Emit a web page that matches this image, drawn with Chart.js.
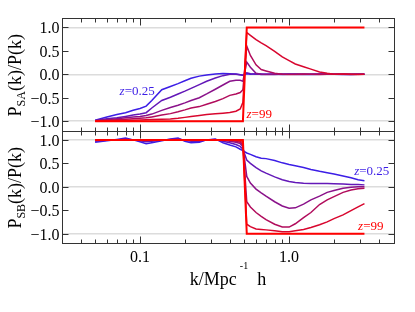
<!DOCTYPE html>
<html>
<head>
<meta charset="utf-8">
<script src="https://cdn.jsdelivr.net/npm/chart.js@4.4.0/dist/chart.umd.min.js"></script>
<style>
  html, body { margin: 0; padding: 0; background: #fff; }
  #wrap { width: 415px; height: 312px; }
</style>
</head>
<body>
<div id="wrap"><canvas id="chart" width="415" height="312"></canvas></div>
<script>
// k grid (h/Mpc), shared by every curve
const k = [0.05, 0.06, 0.07, 0.08, 0.09, 0.1, 0.11, 0.12, 0.14, 0.16, 0.18, 0.2, 0.22, 0.25, 0.28, 0.32, 0.36, 0.4, 0.44, 0.47, 0.49,
           0.52, 0.55, 0.6, 0.65, 0.7, 0.8, 0.9, 1.0, 1.1, 1.25, 1.4, 1.6, 1.8, 2.0, 2.3, 2.6, 2.9, 3.2];

// upper panel: P_SA(k)/P(k), from z=0.25 (first) to z=99 (last)
const sa1 = [-0.98, -0.91, -0.86, -0.82, -0.77, -0.73, -0.68, -0.56, -0.33, -0.26, -0.2, -0.14, -0.085, -0.04, -0.015, 0.005, 0.015, 0.01, 0.005, -0.01, -0.02,
             0.01, 0.0, 0.01, -0.005, 0.0, 0.005, -0.005, 0.0, 0.005, 0.0, -0.005, 0.0, 0.005, 0.0, -0.005, 0.0, 0.0, 0.0];
const sa2 = [-0.985, -0.95, -0.93, -0.9, -0.87, -0.85, -0.82, -0.72, -0.56, -0.49, -0.42, -0.36, -0.3, -0.22, -0.15, -0.08, -0.03, 0.0, 0.0, -0.01, -0.02,
             0.03, 0.01, 0.0, 0.005, 0.0, -0.005, 0.0, 0.005, 0.0, -0.005, 0.0, 0.0, 0.005, 0.0, 0.0, -0.005, 0.0, 0.0];
const sa3 = [-0.99, -0.97, -0.95, -0.93, -0.91, -0.9, -0.88, -0.85, -0.77, -0.71, -0.66, -0.61, -0.56, -0.5, -0.42, -0.32, -0.23, -0.15, -0.13, -0.13, -0.15,
             0.26, 0.15, 0.02, 0.0, -0.005, 0.0, 0.005, 0.0, -0.005, 0.0, 0.0, 0.005, 0.0, 0.0, 0.0, -0.005, 0.0, 0.0];
const sa4 = [-0.99, -0.98, -0.97, -0.96, -0.95, -0.94, -0.93, -0.91, -0.87, -0.84, -0.8, -0.76, -0.72, -0.69, -0.64, -0.58, -0.52, -0.45, -0.42, -0.39, -0.33,
             0.6, 0.4, 0.2, 0.1, 0.07, 0.02, 0.0, -0.005, 0.0, 0.005, 0.0, -0.005, 0.0, 0.0, 0.005, 0.0, 0.0, 0.0];
const sa5 = [-0.99, -0.99, -0.985, -0.98, -0.98, -0.975, -0.97, -0.965, -0.96, -0.955, -0.94, -0.92, -0.9, -0.88, -0.86, -0.845, -0.83, -0.815, -0.79, -0.74, -0.6,
             0.89, 0.83, 0.74, 0.67, 0.61, 0.49, 0.37, 0.29, 0.22, 0.16, 0.11, 0.05, 0.02, 0.0, 0.005, 0.0, -0.005, 0.0];
const sa6 = [-1, -1, -1, -1, -1, -1, -1, -1, -1, -1, -1, -1, -1, -1, -1, -1, -1, -1, -1, -1, -1,
             1, 1, 1, 1, 1, 1, 1, 1, 1, 1, 1, 1, 1, 1, 1, 1, 1, 1];

// lower panel: P_SB(k)/P(k)
const sb1 = [0.95, 0.98, 1.01, 1.04, 1.0, 0.96, 0.92, 0.94, 0.98, 1.02, 1.04, 0.97, 0.94, 0.95, 1.0, 1.02, 0.94, 0.89, 0.85, 0.8, 0.77,
             0.72, 0.69, 0.64, 0.61, 0.6, 0.56, 0.51, 0.475, 0.45, 0.41, 0.37, 0.33, 0.3, 0.27, 0.23, 0.19, 0.15, 0.13];
const sb2 = [0.97, 0.99, 1.0, 1.02, 1.0, 0.98, 0.96, 0.97, 0.99, 1.01, 1.02, 0.99, 0.97, 0.97, 1.0, 1.01, 0.97, 0.94, 0.9, 0.86, 0.8,
             0.57, 0.5, 0.41, 0.34, 0.29, 0.21, 0.15, 0.11, 0.09, 0.075, 0.07, 0.07, 0.07, 0.065, 0.06, 0.05, 0.05, 0.04];
const sb3 = [0.99, 1.0, 1.0, 1.01, 1.0, 0.99, 0.98, 0.99, 1.0, 1.0, 1.01, 1.0, 0.99, 0.99, 1.0, 1.0, 0.99, 0.97, 0.95, 0.92, 0.86,
             0.22, 0.08, -0.05, -0.13, -0.2, -0.32, -0.41, -0.46, -0.45, -0.37, -0.28, -0.2, -0.12, -0.08, -0.03, -0.01, 0.0, 0.0];
const sb4 = [1.0, 1.0, 1.0, 1.0, 1.0, 1.0, 0.99, 1.0, 1.0, 1.0, 1.0, 1.0, 1.0, 1.0, 1.0, 1.0, 1.0, 0.99, 0.97, 0.95, 0.9,
             -0.32, -0.43, -0.55, -0.63, -0.7, -0.8, -0.86, -0.86, -0.79, -0.66, -0.55, -0.38, -0.28, -0.21, -0.12, -0.07, -0.045, -0.03];
const sb5 = [1, 1, 1, 1, 1, 1, 1, 1, 1, 1, 1, 1, 1, 1, 1, 1, 1, 1, 1, 0.97, 0.94,
             -0.8, -0.85, -0.9, -0.91, -0.92, -0.94, -0.96, -0.96, -0.94, -0.91, -0.87, -0.81, -0.75, -0.68, -0.6, -0.51, -0.43, -0.36];
const sb6 = [1, 1, 1, 1, 1, 1, 1, 1, 1, 1, 1, 1, 1, 1, 1, 1, 1, 1, 1, 1, 1,
             -1, -1, -1, -1, -1, -1, -1, -1, -1, -1, -1, -1, -1, -1, -1, -1, -1, -1];

// y tick values and their labels
const yTickVals = [1, 0.5, 0, -0.5, -1];
const yTickText = ['1.0', '0.5', '0.0', '\u22120.5', '\u22121.0'];
const xMajor = [0.1, 1];
const xMinor = [0.04, 0.05, 0.06, 0.07, 0.08, 0.09, 0.2, 0.3, 0.4, 0.5, 0.6, 0.7, 0.8, 0.9, 2, 3, 4];

// redshift labels: [panel axis, k, value, text, colour index]
const zLabels = [
  ['yA', 0.073, -0.36, '=0.25', 0],
  ['yA', 0.518, -0.857, '=99', 5],
  ['yB', 2.73, 0.32, '=0.25', 0],
  ['yB', 2.9, -0.857, '=99', 5],
];

const colors = ['#3c1ee6', '#6318b8', '#8a128a', '#b10c5c', '#d8062e', '#ff0000'];
const serif = "'Liberation Serif', 'DejaVu Serif', serif";

const datasets = [];
[[sa1, sa2, sa3, sa4, sa5, sa6, 'yA'], [sb1, sb2, sb3, sb4, sb5, sb6, 'yB']].forEach((p) => {
  const axis = p[6];
  for (let i = 0; i < 6; i++) {
    datasets.push({
      data: k.map((kk, j) => ({ x: kk, y: p[i][j] })),
      yAxisID: axis,
      borderColor: colors[i],
      borderWidth: i === 5 ? 2 : 1.5,
      pointRadius: 0,
      tension: 0,
      order: 5 - i,
    });
  }
});

function runsWidth(ctx, runs) {
  let w = 0;
  for (const r of runs) { ctx.font = r[1]; w += ctx.measureText(r[0]).width + (r[3] || 0); }
  return w;
}
function drawRuns(ctx, runs, x0, y0) {
  let x = x0;
  for (const r of runs) {
    ctx.font = r[1];
    ctx.fillText(r[0], x, y0 + r[2]);
    x += ctx.measureText(r[0]).width + (r[3] || 0);
  }
}

const panelFrame = {
  id: 'panelFrame',
  afterDraw(chart) {
    const { ctx, scales } = chart;
    const x = scales.x;
    ctx.save();
    ctx.strokeStyle = '#333';
    ctx.lineWidth = 1;
    const seg = (x1, y1, x2, y2) => { ctx.beginPath(); ctx.moveTo(x1, y1); ctx.lineTo(x2, y2); ctx.stroke(); };
    for (const id of ['yA', 'yB']) {
      const y = scales[id];
      const l = Math.round(x.left) + 0.5, r = Math.round(x.right) + 0.5;
      const t = Math.round(y.top) + 0.5, b = Math.round(y.bottom) + 0.5;
      ctx.strokeRect(l, t, r - l, b - t);
      for (const v of xMajor.concat(xMinor)) {
        const px = Math.round(x.getPixelForValue(v)) + 0.5;
        const len = xMajor.includes(v) ? 7 : 4;
        seg(px, t, px, t + len);
        seg(px, b, px, b - len);
      }
      for (let i = 0; i < yTickVals.length; i++) {
        const py = Math.round(y.getPixelForValue(yTickVals[i])) + 0.5;
        seg(l, py, l + 6, py);
        seg(r, py, r - 6, py);
        ctx.fillStyle = '#000';
        ctx.font = '16px ' + serif;
        ctx.textAlign = 'right';
        ctx.textBaseline = 'alphabetic';
        ctx.fillText(yTickText[i], l - 3, py + 5.5);
      }
    }

    // axis titles with sub/superscripts
    ctx.fillStyle = '#000';
    ctx.textAlign = 'left';
    ctx.textBaseline = 'alphabetic';
    const big = '18px ' + serif, small = '12px ' + serif;
    [['yA', 'SA'], ['yB', 'SB']].forEach(([id, sub]) => {
      const y = scales[id];
      const runs = [['P', big, 0], [sub, small, 4], ['(k)/P(k)', big, 0]];
      ctx.save();
      ctx.translate(21, (y.top + y.bottom) / 2 + 1);
      ctx.rotate(-Math.PI / 2);
      drawRuns(ctx, runs, -runsWidth(ctx, runs) / 2, 0);
      ctx.restore();
    });
    const xr = [['k/Mpc', big, 0, 3], ['-1', '10px ' + serif, -16, 9], ['h', big, 0]];
    drawRuns(ctx, xr, (x.left + x.right) / 2 - runsWidth(ctx, xr) / 2, 285);
    ctx.restore();
  },
  afterDatasetsDraw(chart) {
    const { ctx, scales } = chart;
    ctx.save();
    ctx.textBaseline = 'middle';
    for (const [id, kk, v, txt, ci] of zLabels) {
      ctx.fillStyle = colors[ci];
      const runs = [['z', 'italic 13px ' + serif, 0], [txt, '13px ' + serif, 0]];
      drawRuns(ctx, runs, scales.x.getPixelForValue(kk), scales[id].getPixelForValue(v));
    }
    ctx.restore();
  }
};

const yScale = () => ({
  type: 'linear',
  position: 'left',
  stack: 'panels',
  stackWeight: 1,
  min: -1.2,
  max: 1.2,
  border: { display: false },
  afterBuildTicks: (s) => { s.ticks = [-1, 0, 1].map((v) => ({ value: v })); },
  grid: { drawTicks: false, lineWidth: 1.5, color: '#dcdcdc' },
  ticks: { display: false },
  afterFit: (s) => { s.width = 62; },
});

new Chart(document.getElementById('chart'), {
  type: 'line',
  data: { datasets },
  options: {
    responsive: false,
    animation: false,
    layout: { padding: { top: 18, right: 21, left: 0, bottom: 0 } },
    plugins: { legend: { display: false }, tooltip: { enabled: false } },
    scales: {
      x: {
        type: 'logarithmic',
        min: 0.03,
        max: 5.05,
        grid: { display: false, drawTicks: false },
        border: { display: false },
        ticks: {
          autoSkip: false,
          maxRotation: 0,
          padding: 5,
          color: '#000',
          font: { family: serif, size: 16 },
          callback: (v) => Math.abs(v - 0.1) < 1e-9 ? '0.1' : (Math.abs(v - 1) < 1e-9 ? '1.0' : ''),
        },
        afterFit: (s) => { s.height = 69; },
      },
      yB: yScale(),
      yA: yScale(),
    },
  },
  plugins: [panelFrame],
});
</script>
</body>
</html>
